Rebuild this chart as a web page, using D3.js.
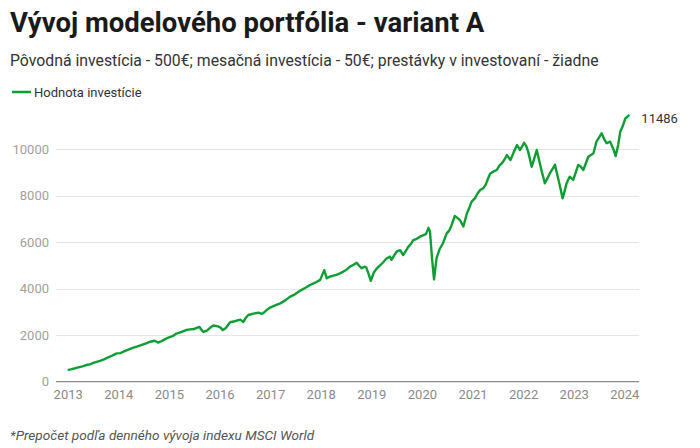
<!DOCTYPE html>
<html>
<head>
<meta charset="utf-8">
<script src="https://cdn.jsdelivr.net/npm/d3@7"></script>
<style>
  html, body { margin: 0; padding: 0; background: #fff; }
  svg { display: block; font-family: Roboto, "Noto Sans", sans-serif; }
</style>
</head>
<body>
<svg id="chart" width="700" height="448"></svg>
<script>
const title = "Vývoj modelového portfólia - variant A";
const subtitle = "Pôvodná investícia - 500€; mesačná investícia - 50€; prestávky v investovaní - žiadne";
const seriesName = "Hodnota investície";
const footnote = "*Prepočet podľa denného vývoja indexu MSCI World";

const xTicks = [2013, 2014, 2015, 2016, 2017, 2018, 2019, 2020, 2021, 2022, 2023, 2024];
const yTicks = [0, 2000, 4000, 6000, 8000, 10000];

// time as decimal year
const years = [
  2013.00, 2013.08, 2013.15, 2013.23, 2013.31, 2013.38, 2013.45, 2013.52, 2013.64, 2013.72, 2013.80, 2013.88, 2013.97,
  2014.04, 2014.10, 2014.20, 2014.30, 2014.38, 2014.45, 2014.55, 2014.63, 2014.72, 2014.79, 2014.85, 2014.90, 2014.99,
  2015.07, 2015.15, 2015.25, 2015.35, 2015.42, 2015.50, 2015.60, 2015.64, 2015.68, 2015.75, 2015.82, 2015.88, 2015.97,
  2016.02, 2016.06, 2016.12, 2016.21, 2016.30, 2016.41, 2016.47, 2016.52, 2016.57, 2016.67, 2016.77, 2016.84, 2016.87, 2016.93,
  2017.00, 2017.10, 2017.20, 2017.30, 2017.39, 2017.49, 2017.59, 2017.69, 2017.79, 2017.89, 2017.99,
  2018.07, 2018.12, 2018.18, 2018.25, 2018.31, 2018.38, 2018.45, 2018.51, 2018.58, 2018.65, 2018.71, 2018.76, 2018.81, 2018.86, 2018.90, 2018.95, 2018.99,
  2019.05, 2019.11, 2019.17, 2019.24, 2019.30, 2019.37, 2019.40, 2019.45, 2019.50, 2019.57, 2019.63, 2019.68, 2019.73, 2019.78, 2019.83, 2019.90, 2019.96,
  2020.02, 2020.08, 2020.13, 2020.16, 2020.20, 2020.24, 2020.29, 2020.35, 2020.42, 2020.49, 2020.54, 2020.58,
  2020.65, 2020.70, 2020.75, 2020.82, 2020.89, 2020.94, 2020.98,
  2021.05, 2021.10, 2021.15, 2021.21, 2021.26, 2021.30, 2021.35, 2021.42, 2021.48, 2021.53, 2021.58, 2021.63, 2021.68, 2021.75, 2021.82, 2021.88, 2021.94,
  2022.02, 2022.06, 2022.10, 2022.17, 2022.22, 2022.27, 2022.32, 2022.37, 2022.43, 2022.48, 2022.53, 2022.58, 2022.63, 2022.70, 2022.74, 2022.78, 2022.82, 2022.86, 2022.92, 2022.99,
  2023.04, 2023.09, 2023.14, 2023.19, 2023.24, 2023.29, 2023.34, 2023.39, 2023.45, 2023.50, 2023.55, 2023.60, 2023.65, 2023.72, 2023.79, 2023.83, 2023.88, 2023.92, 2023.97,
  2024.02, 2024.06, 2024.10
];
const values = [
  500, 540, 580, 630, 670, 720, 760, 820, 900, 960, 1050, 1120, 1220,
  1230, 1290, 1380, 1470, 1520, 1570, 1650, 1720, 1760, 1680, 1740, 1800, 1900,
  1960, 2070, 2140, 2230, 2250, 2270, 2360, 2250, 2140, 2200, 2330, 2420, 2380,
  2330, 2220, 2300, 2560, 2600, 2670, 2570, 2750, 2870, 2930, 2970, 2920, 2960, 3080,
  3190, 3280, 3370, 3500, 3650, 3760, 3910, 4030, 4160, 4260, 4380,
  4800, 4450, 4520, 4560, 4600, 4660, 4740, 4820, 4950, 5030, 5120, 4990, 4880, 4950, 4920, 4620, 4340,
  4700, 4880, 5000, 5150, 5300, 5380, 5240, 5420, 5600, 5660, 5450, 5620, 5800, 5920, 6090, 6150, 6240,
  6300, 6350, 6620, 6450, 5300, 4400, 5320, 5700, 5980, 6380, 6500, 6700,
  7130, 7050, 6960, 6680, 7250, 7500, 7740,
  7900, 8100, 8250, 8320, 8470, 8700, 8960, 9050, 9110, 9300, 9400, 9550, 9750, 9540, 9900, 10180, 9970,
  10280, 10150, 9900, 9250, 9600, 9970, 9500, 9040, 8540, 8750, 8970, 9150, 9330, 8680, 8300, 7890, 8200, 8540, 8820, 8680,
  9000, 9330, 9250, 9110, 9400, 9680, 9750, 9830, 10330, 10500, 10690, 10450, 10260, 10330, 9970, 9710, 10200, 10760, 11000,
  11330, 11400, 11486
];
const endLabel = "11486";

const data = years.map((t, i) => ({ t, v: values[i] }));

const svg = d3.select("#chart");

const x = d3.scaleLinear().domain([2013, 2024]).range([67.7, 624.3]);
const y = d3.scaleLinear().domain([0, 10000]).range([381.7, 149.3]);
const plotLeft = 56, plotRight = 639;
const green = "#0f9d34";

// Title & subtitle
svg.append("text").attr("x", 10).attr("y", 32)
  .attr("font-size", 27.5).attr("font-weight", 700).attr("fill", "#1a1a1a")
  .text(title);
svg.append("text").attr("x", 10).attr("y", 66)
  .attr("font-size", 15.8).attr("fill", "#333")
  .text(subtitle);

// Legend
const lg = svg.append("g").attr("transform", "translate(12,92)");
lg.append("line").attr("x1", 0).attr("x2", 19).attr("y1", 0).attr("y2", 0)
  .attr("stroke", green).attr("stroke-width", 2.5);
lg.append("text").attr("x", 22).attr("y", 4.5).attr("font-size", 13).attr("fill", "#333")
  .text(seriesName);

// Gridlines + y labels
const gy = svg.append("g");
yTicks.filter(d => d > 0).forEach(d => {
  gy.append("line").attr("x1", plotLeft).attr("x2", plotRight)
    .attr("y1", Math.round(y(d)) + 0.5).attr("y2", Math.round(y(d)) + 0.5)
    .attr("stroke", "#e5e5e5").attr("stroke-width", 1);
});
yTicks.forEach(d => {
  gy.append("text").attr("x", 49).attr("y", y(d) + 4.5)
    .attr("text-anchor", "end").attr("font-size", 13).attr("fill", "#a0a0a0")
    .text(d);
});

// baseline
svg.append("line").attr("x1", plotLeft).attr("x2", plotRight)
  .attr("y1", y(0)).attr("y2", y(0))
  .attr("stroke", "#8c8c8c").attr("stroke-width", 1.3);

// x axis
const xAxis = d3.axisBottom(x).tickValues(xTicks).tickFormat(d3.format("d")).tickSize(0).tickPadding(8);
const gx = svg.append("g").attr("transform", `translate(0,${y(0)})`).call(xAxis);
gx.select(".domain").remove();
gx.selectAll("text").attr("font-size", 13).attr("fill", "#8a8a8a")
  .attr("font-family", "Roboto, sans-serif");

// line
const line = d3.line().x(d => x(d.t)).y(d => y(d.v));
svg.append("path").datum(data)
  .attr("fill", "none").attr("stroke", green).attr("stroke-width", 2.4)
  .attr("stroke-linejoin", "round").attr("d", line);

// end label
const last = data[data.length - 1];
svg.append("text").attr("x", x(last.t) + 12).attr("y", y(last.v) + 8)
  .attr("font-size", 13).attr("fill", "#333").text(endLabel);

// footnote
svg.append("text").attr("x", 10).attr("y", 440)
  .attr("font-size", 13.6).attr("font-style", "italic").attr("fill", "#555")
  .text(footnote);
</script>
</body>
</html>
